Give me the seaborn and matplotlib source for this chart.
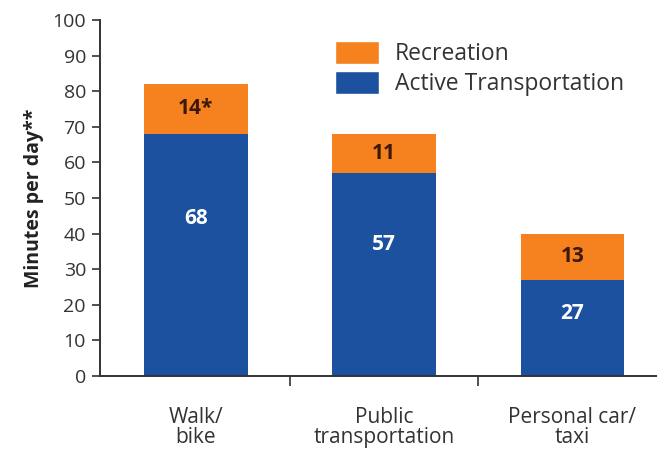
import matplotlib.pyplot as plt
from matplotlib.patches import Patch
import numpy as np
import seaborn as sns

categories = ["Walk/\nbike", "Public\ntransportation", "Personal car/\ntaxi"]
active = [68, 57, 27]
recreation = [14, 11, 13]
rec_labels = ["14*", "11", "13"]

orange = "#F5821F"
blue = "#1B519E"
totals = np.array(active) + np.array(recreation)

sns.set_style("white")
plt.rcParams["font.family"] = ["Open Sans", "DejaVu Sans"]

fig = plt.figure(figsize=(6.57, 4.63), dpi=100)
ax = fig.add_axes([0.152, 0.188, 0.848, 0.769])

sns.barplot(x=categories, y=totals, color=orange, width=0.55, saturation=1,
            linewidth=0, ax=ax)
sns.barplot(x=categories, y=active, color=blue, width=0.55, saturation=1,
            linewidth=0, ax=ax)

for i in range(len(categories)):
    ax.text(i, active[i] + recreation[i] / 2, rec_labels[i], ha="center", va="center",
            fontsize=15, fontweight="bold", color="#3B1A0C")
    ax.text(i, active[i] * 0.65, str(active[i]), ha="center", va="center",
            fontsize=15, fontweight="bold", color="white")

ax.set_ylim(0, 100)
ax.set_xlim(-0.51, 2.45)
ax.set_yticks(range(0, 101, 10))
ax.tick_params(axis="y", labelsize=14, labelcolor="#333333", length=6, width=1.2,
               color="#333333", direction="out", left=True, pad=4)

ax.set_xticks([0.5, 1.5])
ax.set_xticklabels([])
ax.tick_params(axis="x", which="major", length=7, width=1.2, color="#333333",
               direction="out", bottom=True)
ax.set_xticks([0, 1, 2], minor=True)
ax.set_xticklabels(categories, minor=True)
ax.tick_params(axis="x", which="minor", length=0, pad=22, labelsize=15,
               labelcolor="#333333")
for lab in ax.get_xticklabels(minor=True):
    lab.set_linespacing(0.95)

for side in ["top", "right"]:
    ax.spines[side].set_visible(False)
for side in ["left", "bottom"]:
    ax.spines[side].set_color("#333333")
    ax.spines[side].set_linewidth(1.4)

ax.set_ylabel("Minutes per day**", fontsize=14, fontweight="bold", color="#222222", labelpad=6)

handles = [Patch(facecolor=orange, label="Recreation"),
           Patch(facecolor=blue, label="Active Transportation")]
ax.legend(handles=handles, loc="upper left", bbox_to_anchor=(0.385, 1.0), frameon=False,
          fontsize=16.5, handlelength=1.9, handleheight=1.2, labelspacing=0.2,
          handletextpad=0.7, labelcolor="#333333")

fig.savefig("out.png", dpi=100)
